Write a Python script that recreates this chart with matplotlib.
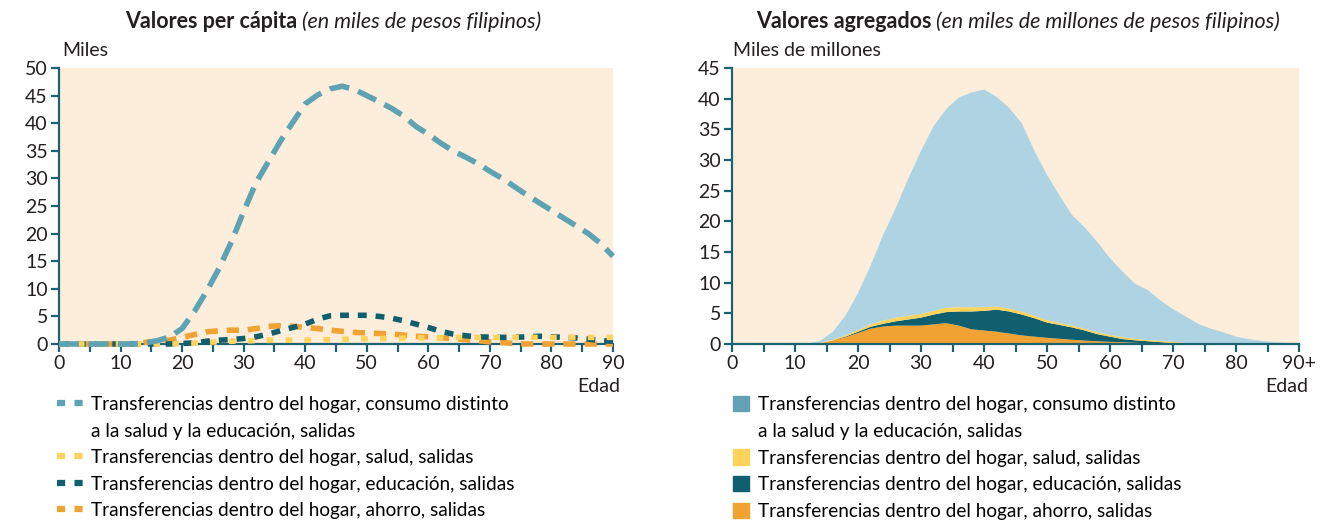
import numpy as np
import matplotlib
matplotlib.use('Agg')
import matplotlib.pyplot as plt
from matplotlib.lines import Line2D
from matplotlib.patches import Patch

plt.rcParams['font.family'] = ['Lato', 'DejaVu Sans']

# edades
edad = [0, 5, 10, 12, 14, 16, 18, 20, 22, 24, 26, 28, 30, 32, 34, 36, 38, 40, 42, 44, 46,
        48, 50, 52, 54, 56, 58, 60, 62, 64, 66, 68, 70, 72, 74, 76, 78, 80, 82, 84, 86, 88, 90]

# valores per capita (miles de pesos)
pc_consumo = [0, 0, 0, 0, 0.2, 0.6, 1.3, 2.8, 5.9, 9.6, 13.7, 18.5, 24.0, 29.2, 33.0, 36.8,
              40.2, 43.5, 45.1, 46.2, 46.7, 46.1, 45.0, 43.9, 42.7, 41.3, 39.4, 38.0, 36.4,
              35.0, 33.9, 32.7, 31.3, 30.0, 28.5, 27.0, 25.6, 24.2, 22.8, 21.4, 20.0, 18.2, 15.9]
pc_salud = [0, 0, 0, 0, 0, 0, 0, 0.05, 0.15, 0.3, 0.4, 0.5, 0.55, 0.6, 0.65, 0.7, 0.7, 0.7,
            0.75, 0.8, 0.85, 0.9, 0.95, 1.0, 1.0, 1.05, 1.1, 1.1, 1.15, 1.2, 1.2, 1.2, 1.2,
            1.2, 1.2, 1.2, 1.2, 1.2, 1.2, 1.2, 1.2, 1.2, 1.2]
pc_educacion = [0, 0, 0, 0, 0, 0, 0, 0.1, 0.2, 0.5, 0.7, 0.8, 1.0, 1.3, 1.8, 2.4, 3.0, 3.6,
                4.5, 5.1, 5.2, 5.2, 5.2, 5.0, 4.7, 4.2, 3.6, 3.0, 2.3, 1.8, 1.5, 1.3, 1.25,
                1.2, 1.2, 1.3, 1.4, 1.3, 1.2, 1.1, 0.9, 0.6, 0.5]
pc_ahorro = [0, 0, 0, 0, 0.3, 0.5, 0.7, 1.2, 1.7, 2.2, 2.4, 2.5, 2.5, 2.8, 3.2, 3.3, 3.2, 3.0,
             2.8, 2.5, 2.3, 2.1, 2.0, 1.9, 1.8, 1.6, 1.4, 1.3, 1.1, 1.0, 0.8, 0.6, 0.4, 0.25,
             0.1, 0, 0, 0, 0, 0, 0, 0, 0]

# valores agregados (miles de millones de pesos)
ag_ahorro = [0, 0, 0, 0, 0.1, 0.6, 1.1, 1.8, 2.5, 2.85, 3.0, 3.0, 3.0, 3.2, 3.4, 3.0, 2.4,
             2.2, 2.0, 1.7, 1.4, 1.2, 1.0, 0.85, 0.7, 0.55, 0.45, 0.35, 0.3, 0.2, 0.1, 0.05,
             0, 0, 0, 0, 0, 0, 0, 0, 0, 0, 0]
ag_educacion = [0, 0, 0, 0, 0, 0, 0.1, 0.2, 0.3, 0.45, 0.7, 1.0, 1.3, 1.6, 1.8, 2.3, 2.9,
                3.2, 3.6, 3.6, 3.4, 3.0, 2.5, 2.25, 2.0, 1.65, 1.15, 0.85, 0.5, 0.4, 0.35,
                0.25, 0.15, 0.03, 0, 0, 0, 0, 0, 0, 0, 0, 0]
ag_salud = [0, 0, 0, 0, 0.1, 0.1, 0.2, 0.3, 0.4, 0.5, 0.6, 0.6, 0.6, 0.6, 0.7, 0.7, 0.7,
            0.6, 0.5, 0.5, 0.5, 0.4, 0.4, 0.3, 0.3, 0.3, 0.3, 0.3, 0.3, 0.25, 0.2, 0.2,
            0.2, 0.17, 0.15, 0.05, 0, 0, 0, 0, 0, 0, 0]
ag_consumo = [0, 0, 0, 0.1, 0.3, 1.3, 3.2, 6.0, 9.6, 14.0, 17.9, 22.4, 26.6, 30.1, 32.4,
              34.2, 35.0, 35.5, 34.2, 32.7, 30.7, 26.9, 23.7, 20.8, 18.0, 16.5, 14.7, 12.5,
              10.7, 8.95, 8.15, 6.6, 5.35, 4.3, 3.15, 2.45, 1.9, 1.2, 0.8, 0.5, 0.3, 0.2, 0.1]

etiquetas = ['Transferencias dentro del hogar, consumo distinto',
             'a la salud y la educación, salidas',
             'Transferencias dentro del hogar, salud, salidas',
             'Transferencias dentro del hogar, educación, salidas',
             'Transferencias dentro del hogar, ahorro, salidas']
x_labels = ['0', '10', '20', '30', '40', '50', '60', '70', '80', '90+']

c_consumo = '#5ea3b4'
c_area = '#aed4e3'
c_salud = '#fdd35c'
c_edu = '#0f5f6e'
c_ahorro = '#f0a232'
fondo = '#fdeedb'
eje = '#1d6273'
texto = '#231f20'

W, H = 1322, 520
fig = plt.figure(figsize=(W/100, H/100), dpi=100)
ax1 = fig.add_axes([59/W, 1 - 344/H, 554/W, 276/H])
ax2 = fig.add_axes([732/W, 1 - 344/H, 567/W, 276/H])


def estilo(ax, ymax, yticks):
    ax.set_facecolor(fondo)
    ax.set_xlim(0, 90)
    ax.set_ylim(0, ymax)
    for s in ['top', 'right']:
        ax.spines[s].set_visible(False)
    for s in ['left', 'bottom']:
        ax.spines[s].set_color(eje)
        ax.spines[s].set_linewidth(1.6)
    ax.set_yticks(yticks)
    ax.set_xticks(np.arange(0, 91, 10))
    ax.set_xticks(np.arange(0, 91, 5), minor=True)
    ax.tick_params(axis='both', which='both', color=eje, width=1.6, length=6,
                   labelsize=14, labelcolor=texto, pad=2)


# panel izquierdo
estilo(ax1, 50, np.arange(0, 51, 5))
ax1.plot(edad, pc_ahorro, color=c_ahorro, lw=4, ls=(0, (2.2, 1.6)), zorder=3, clip_on=False)
ax1.plot(edad, pc_educacion, color=c_edu, lw=4, ls=(0, (1.6, 1.6)), zorder=3, clip_on=False)
ax1.plot(edad, pc_salud, color=c_salud, lw=4, ls=(0, (1.2, 2.2)), zorder=3, clip_on=False)
ax1.plot(edad, pc_consumo, color=c_consumo, lw=4, ls=(0, (3.6, 1.7)), zorder=3, clip_on=False)

# panel derecho
estilo(ax2, 45, np.arange(0, 46, 5))
ax2.stackplot(edad, ag_ahorro, ag_educacion, ag_salud, ag_consumo,
              colors=[c_ahorro, c_edu, c_salud, c_area], lw=0, zorder=1)
ax2.set_xticklabels(x_labels)

# titulos: parte en negrita + parte en cursiva, centrados
fig.canvas.draw()
r = fig.canvas.get_renderer()
for xc, negrita, cursiva in [(333, 'Valores per cápita', ' (en miles de pesos filipinos)'),
                            (1018, 'Valores agregados', ' (en miles de millones de pesos filipinos)')]:
    t1 = fig.text(0, 1 - 22/H, negrita, fontsize=15.5, weight='bold', color=texto, va='center')
    t2 = fig.text(0, 1 - 22/H, cursiva, fontsize=15.5, style='italic', color=texto, va='center')
    w1 = t1.get_window_extent(r).width
    w2 = t2.get_window_extent(r).width
    x0 = xc - (w1 + w2) / 2
    t1.set_x(x0/W)
    t2.set_x((x0 + w1)/W)

fig.text(62/W, 1 - 50/H, 'Miles', fontsize=14, color=texto, va='center', ha='left')
fig.text(733/W, 1 - 50/H, 'Miles de millones', fontsize=14, color=texto, va='center', ha='left')
fig.text(620/W, 1 - 386/H, 'Edad', fontsize=14, color=texto, va='center', ha='right')
fig.text(1308/W, 1 - 386/H, 'Edad', fontsize=14, color=texto, va='center', ha='right')

# leyendas
vacio = Patch(visible=False)
h1 = [Line2D([], [], color=c, lw=4.5, ls=(0, (1.3, 1.5))) for c in [c_consumo, c_salud, c_edu, c_ahorro]]
h1.insert(1, vacio)
fig.legend(h1, etiquetas, loc='upper left', bbox_to_anchor=(57/W, 1 - 396/H),
           frameon=False, fontsize=13.7, handlelength=1.4, handletextpad=0.4,
           labelspacing=0.5, borderpad=0, borderaxespad=0)
h2 = [Patch(color=c) for c in ['#62a1b3', c_salud, c_edu, c_ahorro]]
h2.insert(1, vacio)
fig.legend(h2, etiquetas, loc='upper left', bbox_to_anchor=(733/W, 1 - 396/H),
           frameon=False, fontsize=13.7, handlelength=0.85, handleheight=0.85,
           handletextpad=0.45, labelspacing=0.5, borderpad=0, borderaxespad=0)

plt.savefig('out.png', dpi=100)
